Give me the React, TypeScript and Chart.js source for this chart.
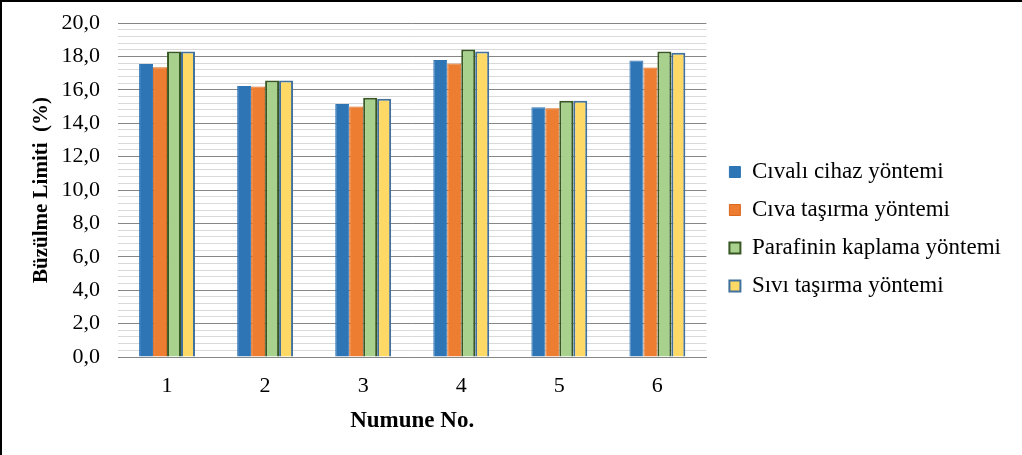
import React, { useEffect, useRef } from "react";
import { Chart, registerables } from "chart.js";

Chart.register(...registerables);

const categories = ["1", "2", "3", "4", "5", "6"];
const seriesNames = [
  "Cıvalı cihaz yöntemi",
  "Cıva taşırma yöntemi",
  "Parafinin kaplama yöntemi",
  "Sıvı taşırma yöntemi",
];
const civaliCihaz = [17.55, 16.23, 15.15, 17.78, 14.95, 17.76];
const civaTasirma = [17.35, 16.2, 15.0, 17.58, 14.89, 17.33];
const parafinKaplama = [18.3, 16.56, 15.53, 18.42, 15.35, 18.3];
const siviTasirma = [18.3, 16.56, 15.47, 18.3, 15.35, 18.22];
const yMin = 0;
const yMax = 20;
const yMinorStep = 0.4;
const yMajorStep = 2;
const yTitle = "Büzülme Limiti  (%)";
const xTitle = "Numune No.";

const FONT = '"Liberation Serif", "Times New Roman", serif';

const legendWidthPlugin = {
  id: "legendWidthFix",
  beforeLayout(chart: any) {
    const lg = chart.legend;
    if (lg && !lg.__patched) {
      const orig = lg.update;
      lg.update = function (mw: number, mh: number, m: any) {
        orig.call(this, Math.max(mw, 600), mh, m);
      };
      lg.__patched = true;
    }
  },
};

export default function App() {
  const ref = useRef<HTMLCanvasElement | null>(null);

  useEffect(() => {
    if (!ref.current) return;
    const isMajor = (v: number) => Math.round(v * 10) % Math.round(yMajorStep * 10) === 0;
    const chart = new Chart(ref.current, {
      type: "bar",
      data: {
        labels: categories,
        datasets: [
          {
            label: seriesNames[0],
            data: civaliCihaz,
            backgroundColor: "#2E75B6",
            borderColor: "#2E75B6",
            borderWidth: 1,
          },
          {
            label: seriesNames[1],
            data: civaTasirma,
            backgroundColor: "#ED7D31",
            borderColor: "#D9681E",
            borderWidth: 1,
          },
          {
            label: seriesNames[2],
            data: parafinKaplama,
            backgroundColor: "#A9D18E",
            borderColor: "#385723",
            borderWidth: 2,
          },
          {
            label: seriesNames[3],
            data: siviTasirma,
            backgroundColor: "#FFD966",
            borderColor: "#41719C",
            borderWidth: 2,
          },
        ],
      },
      plugins: [legendWidthPlugin],
      options: {
        responsive: false,
        animation: false,
        layout: { padding: { top: 23, right: 11, bottom: 20, left: 0 } },
        datasets: {
          bar: { categoryPercentage: 0.57, barPercentage: 1 },
        },
        plugins: {
          tooltip: { enabled: false },
          legend: {
            position: "right",
            labels: {
              font: { family: FONT, size: 23 },
              color: "#000",
              boxWidth: 11,
              boxHeight: 11,
              padding: 15,
            },
          },
        },
        scales: {
          x: {
            grid: { display: false, drawTicks: false },
            border: { display: true, color: "#868686", width: 1 },
            ticks: { font: { family: FONT, size: 22 }, color: "#000", padding: 16 },
            title: {
              display: true,
              text: xTitle,
              font: { family: FONT, size: 23, weight: "bold" },
              color: "#000",
              padding: { top: 0, bottom: 0 },
            },
            afterFit: (s: any) => {
              s.height = 78;
            },
          },
          y: {
            min: yMin,
            max: yMax,
            grid: {
              drawTicks: false,
              color: (ctx: any) => (isMajor(ctx.tick.value) ? "#868686" : "#D9D9D9"),
              lineWidth: 1,
            },
            border: { display: false },
            ticks: {
              stepSize: yMinorStep,
              autoSkip: false,
              padding: 18,
              font: { family: FONT, size: 22 },
              color: "#000",
              callback: (v: any) =>
                isMajor(Number(v)) ? Number(v).toFixed(1).replace(".", ",") : "",
            },
            title: {
              display: true,
              text: yTitle,
              font: { family: FONT, size: 21, weight: "bold" },
              color: "#000",
              padding: { top: 29, bottom: 0 },
            },
            afterFit: (s: any) => {
              s.width = 118;
              s.paddingTop = 0;
              s.paddingBottom = 0;
            },
          },
          yR: {
            position: "right",
            display: true,
            grid: { display: false, drawTicks: false },
            border: { display: false },
            ticks: { display: false },
            afterFit: (s: any) => {
              s.width = 8;
              s.paddingTop = 0;
              s.paddingBottom = 0;
            },
          },
        },
      },
    });
    return () => chart.destroy();
  }, []);

  return (
    <div
      style={{
        position: "fixed",
        left: 0,
        top: 0,
        width: 1022,
        height: 455,
        background: "#fff",
      }}
    >
      <canvas ref={ref} width={1022} height={455} style={{ display: "block" }} />
      <div
        style={{
          position: "absolute",
          left: 0,
          top: 0,
          width: 1022,
          height: 455,
          boxSizing: "border-box",
          borderLeft: "2px solid #000",
          borderTop: "2px solid #000",
          pointerEvents: "none",
        }}
      />
    </div>
  );
}
